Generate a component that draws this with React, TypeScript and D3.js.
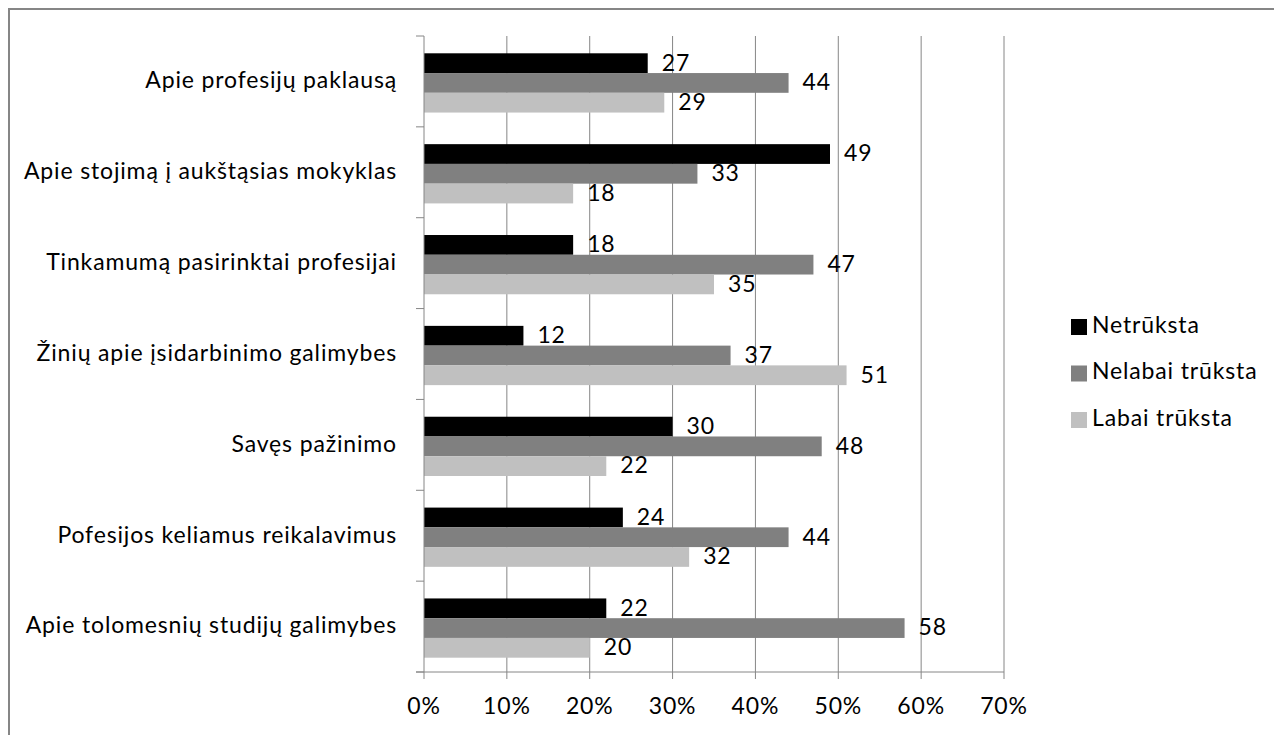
import React from "react";
import * as d3 from "d3";

const categories = [
  "Apie profesijų paklausą",
  "Apie stojimą į aukštąsias mokyklas",
  "Tinkamumą pasirinktai profesijai",
  "Žinių apie įsidarbinimo galimybes",
  "Savęs pažinimo",
  "Pofesijos keliamus reikalavimus",
  "Apie tolomesnių studijų galimybes",
];
const seriesNames = ["Netrūksta", "Nelabai trūksta", "Labai trūksta"];
const netruksta = [27, 49, 18, 12, 30, 24, 22];
const nelabai = [44, 33, 47, 37, 48, 44, 58];
const labai = [29, 18, 35, 51, 22, 32, 20];
const xTicks = [0, 10, 20, 30, 40, 50, 60, 70];
const colors = ["#000000", "#808080", "#c0c0c0"];

const W = 1274;
const H = 735;
const FONT = "Lato, 'Open Sans', sans-serif";
const FS = 23;
const LS = 0.85;

export default function App() {
  const series = [netruksta, nelabai, labai];
  const x = d3.scaleLinear().domain([0, 70]).range([424, 1004]);
  const y = d3.scaleBand().domain(categories).range([36, 672]).paddingInner(0).paddingOuter(0);
  const inner = d3.scaleBand().domain(seriesNames).range([0, y.bandwidth()]).paddingOuter(0.8).paddingInner(0);
  const boundaries = d3.range(categories.length + 1).map((i) => 36 + i * y.step());
  return (
    <svg width={W} height={H} style={{ position: "absolute", left: 0, top: 0, background: "#fff" }} fontFamily={FONT} letterSpacing={LS}>
      <rect x={0} y={0} width={W} height={H} fill="#fff" />
      <path d={`M9,${H} V9 H${W}`} fill="none" stroke="#868686" strokeWidth={2} />
      {xTicks.slice(1).map((t) => (
        <line key={t} x1={x(t)} x2={x(t)} y1={36} y2={672} stroke="#868686" strokeWidth={1} />
      ))}
      {categories.map((c, i) =>
        series.map((s, j) => (
          <rect
            key={c + j}
            x={x(0)}
            y={(y(c) as number) + (inner(seriesNames[j]) as number) + 1.5}
            width={x(s[i]) - x(0)}
            height={inner.bandwidth()}
            fill={colors[j]}
          />
        ))
      )}
      {categories.map((c, i) =>
        series.map((s, j) => (
          <text
            key={"l" + c + j}
            x={x(s[i]) + 14}
            y={(y(c) as number) + (inner(seriesNames[j]) as number) + inner.bandwidth() / 2 + 3}
            dominantBaseline="middle"
            fontSize={FS}
            fill="#000"
          >
            {s[i]}
          </text>
        ))
      )}
      <line x1={424} x2={424} y1={36} y2={672} stroke="#868686" strokeWidth={1} />
      <line x1={416} x2={1004} y1={672} y2={672} stroke="#868686" strokeWidth={1} />
      {boundaries.map((b, i) => (
        <line key={"yt" + i} x1={416} x2={424} y1={b} y2={b} stroke="#868686" strokeWidth={1} />
      ))}
      {xTicks.map((t) => (
        <line key={"xt" + t} x1={x(t)} x2={x(t)} y1={672} y2={679} stroke="#868686" strokeWidth={1} />
      ))}
      {xTicks.map((t) => (
        <text key={"xl" + t} x={x(t)} y={708} textAnchor="middle" dominantBaseline="middle" fontSize={FS} fill="#000">
          {t + "%"}
        </text>
      ))}
      {categories.map((c) => (
        <text
          key={"cl" + c}
          x={397}
          y={(y(c) as number) + y.bandwidth() / 2 + 1}
          textAnchor="end"
          dominantBaseline="middle"
          fontSize={FS}
          fill="#000"
        >
          {c}
        </text>
      ))}
      {seriesNames.map((n, j) => (
        <g key={"lg" + n} transform={`translate(1071, ${327 + j * 46.5})`}>
          <rect x={0} y={-8} width={16} height={16} fill={colors[j]} />
          <text x={21} y={0} dominantBaseline="middle" fontSize={FS} fill="#000">
            {n}
          </text>
        </g>
      ))}
    </svg>
  );
}
